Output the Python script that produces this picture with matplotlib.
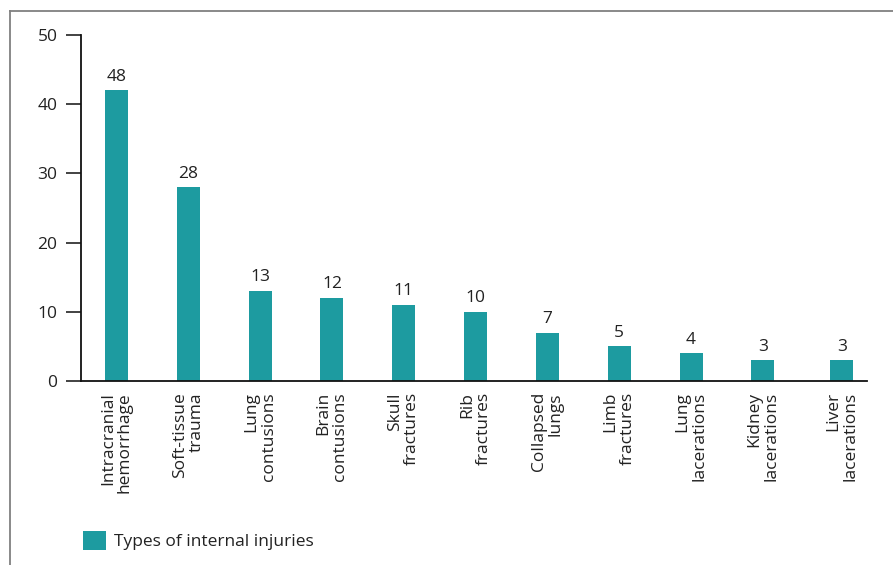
import matplotlib
matplotlib.use("Agg")
import matplotlib.pyplot as plt
from matplotlib.lines import Line2D
from matplotlib.patches import Patch

categories = ["Intracranial\nhemorrhage", "Soft-tissue\ntrauma", "Lung\ncontusions",
              "Brain\ncontusions", "Skull\nfractures", "Rib\nfractures",
              "Collapsed\nlungs", "Limb\nfractures", "Lung\nlacerations",
              "Kidney\nlacerations", "Liver\nlacerations"]
bar_heights = [42, 28, 13, 12, 11, 10, 7, 5, 4, 3, 3]
bar_labels = ["48", "28", "13", "12", "11", "10", "7", "5", "4", "3", "3"]
yticks = [0, 10, 20, 30, 40, 50]
legend_label = "Types of internal injuries"

positions = [0, 1, 2, 3, 4, 5, 6, 7, 8, 9, 10.1]

plt.rcParams['font.family'] = ['Open Sans', 'DejaVu Sans']
FS = 12.5
color = '#1d9ba0'
W, H = 893, 565
fig = plt.figure(figsize=(W / 100, H / 100), dpi=100)

# frame lines
fig.add_artist(Line2D([10 / W, 1.0], [1 - 11 / H, 1 - 11 / H], transform=fig.transFigure,
                      color='#808080', lw=1.3))
fig.add_artist(Line2D([10 / W, 10 / W], [0, 1 - 11 / H], transform=fig.transFigure,
                      color='#808080', lw=1.3))

ax = fig.add_axes([81 / W, 1 - 381 / H, (867 - 81) / W, (381 - 35) / H])
bars = ax.bar(positions, bar_heights, width=0.32, color=color)
for b, lab in zip(bars, bar_labels):
    ax.annotate(lab, (b.get_x() + b.get_width() / 2, b.get_height()),
                xytext=(0, 4), textcoords='offset points', ha='center', va='bottom',
                fontsize=FS, color='#222222')

ax.set_ylim(0, 50)
ax.set_xlim(-0.494, 10.45)
ax.set_yticks(yticks)
ax.tick_params(axis='y', length=11, width=1.2, pad=6, labelsize=FS, colors='#222222')
ax.set_xticks(positions)
ax.set_xticklabels(categories, rotation=90, ha='center', va='top',
                   multialignment='right', fontsize=FS, color='#222222',
                   linespacing=1.08)
ax.tick_params(axis='x', length=0, pad=8)
for s in ['top', 'right']:
    ax.spines[s].set_visible(False)
for s in ['left', 'bottom']:
    ax.spines[s].set_linewidth(1.3)
    ax.spines[s].set_color('#111111')

fig.legend(handles=[Patch(facecolor=color, edgecolor='none')], labels=[legend_label],
           loc='center left', bbox_to_anchor=(83 / W, 1 - 540.5 / H),
           bbox_transform=fig.transFigure, frameon=False, fontsize=FS,
           handlelength=1.3, handleheight=1.3, handletextpad=0.5,
           borderpad=0, borderaxespad=0, labelcolor='#222222')

fig.savefig("out.png", dpi=100)
